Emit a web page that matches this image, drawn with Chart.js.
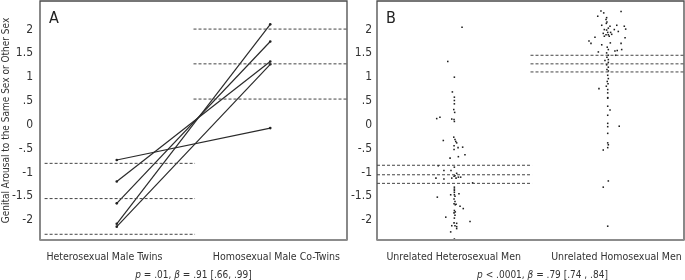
<!DOCTYPE html>
<html>
<head>
<meta charset="utf-8">
<script src="https://cdn.jsdelivr.net/npm/chart.js@4.4.1/dist/chart.umd.min.js"></script>
<style>
  body { margin: 0; background: #fff; }
  #wrap { position: relative; width: 685px; height: 280px; }
  #panelA { position: absolute; left: 0; top: 0; }
  #panelB { position: absolute; left: 350px; top: 0; }
</style>
</head>
<body>
<div id="wrap">
  <canvas id="panelA" width="350" height="280"></canvas>
  <canvas id="panelB" width="335" height="280"></canvas>
</div>
<script>
// y axis ticks (shared by both panels)
const yTicks = [-2, -1.5, -1, -0.5, 0, 0.5, 1, 1.5, 2];
const yTickLabels = ['-2', '-1.5', '-1', '-.5', '0', '.5', '1', '1.5', '2'];

// panel A: twin pairs
const twinLabels = ['Heterosexual Male Twins', 'Homosexual Male Co-Twins'];
const twinHet = [-0.74, -1.19, -1.65, -2.08, -2.14];
const twinHomo = [-0.07, 1.33, 1.75, 2.11, 1.27];
const twinHetBand = [-0.81, -1.55, -2.30];
const twinHomoBand = [2.01, 1.28, 0.54];

// panel B: unrelated men (y value + horizontal jitter)
const unrelLabels = ['Unrelated Heterosexual Men', 'Unrelated Homosexual Men'];
const unrelHetY = [2.05, 1.33, 1.00, 0.69, 0.58, 0.51, 0.44, 0.32, 0.26, 0.16,
  0.13, 0.12, 0.11, 0.07, -0.26, -0.33, -0.31, -0.35, -0.38, -0.44,
  -0.47, -0.48, -0.52, -0.63, -0.67, -0.70, -0.86, -0.89, -0.96, -0.96,
  -1.02, -1.07, -1.08, -1.10, -1.10, -1.12, -1.14, -1.12, -1.12, -1.22,
  -1.31, -1.35, -1.38, -1.42, -1.45, -1.47, -1.47, -1.50, -1.52, -1.56,
  -1.61, -1.66, -1.68, -1.67, -1.71, -1.76, -1.80, -1.83, -1.85, -1.94,
  -1.90, -1.96, -2.03, -2.06, -2.07, -2.12, -2.12, -2.14, -2.25, -2.18, -2.40];
const unrelHetJitter = [0.054, -0.039, 0.004, -0.009, 0.004, 0.004, 0.004, 0, 0.006, -0.09,
  -0.111, -0.013, 0.002, 0.004, 0.0, -0.068, 0.008, 0.013, 0.019, 0.002,
  0.058, 0.028, 0.002, 0.073, 0.030, -0.024, -0.101, 0.004, -0.064, -0.018,
  0.019, 0.008, 0.002, 0.030, 0.045, -0.116, -0.064, -0.013, 0.015, 0.123,
  0.004, 0.004, 0.004, 0.004, 0.034, -0.020, 0.004, 0.008, -0.107, 0.002,
  0.008, 0.002, 0.010, 0.015, 0.041, 0.062, 0.004, 0.010, 0.002, -0.052,
  0.008, 0.004, 0.106, 0.002, 0.019, -0.013, 0.008, 0.019, -0.020, 0.019, 0.004];
const unrelHomoY = [2.39, 2.35, 2.38, 2.28, 2.25, 2.21, 2.16, 2.13, 2.09, 2.07,
  2.03, 2.09, 2.07, 2.00, 1.99, 2.00, 2.01, 1.96, 1.94, 1.94,
  1.89, 1.89, 1.92, 1.90, 1.86, 1.86, 1.84, 1.83, 1.76, 1.71,
  1.68, 1.72, 1.71, 1.63, 1.58, 1.55, 1.56, 1.58, 1.53, 1.51,
  1.46, 1.42, 1.46, 1.35, 1.37, 1.31, 1.26, 1.21, 1.16, 1.13,
  1.04, 0.97, 0.91, 0.86, 0.76, 0.81, 0.74, 0.67, 0.57, 0.56,
  0.39, 0.31, 0.20, 0.03, -0.04, -0.03, -0.18, -0.38, -0.42, -0.48,
  -0.53, -1.18, -1.31, -2.13];
const unrelHomoJitter = [-0.041, -0.023, 0.090, -0.062, -0.004, -0.008, -0.002, -0.006, -0.036, 0.018,
  0.007, 0.062, 0.111, -0.019, -0.004, 0.046, 0.120, 0.072, 0.003, 0.022,
  0.007, -0.008, -0.026, 0.029, 0.013, -0.019, -0.080, 0.116, -0.119, -0.106,
  -0.036, 0.020, 0.090, 0.0, 0.007, 0.050, 0.065, 0.094, -0.058, -0.004,
  0.007, -0.002, 0.055, -0.015, 0.007, 0.007, -0.004, 0.007, -0.002, 0.007,
  0.003, 0.007, 0.0, 0.005, -0.054, -0.006, 0.003, 0.003, 0.003, 0.003,
  0.003, 0.018, 0.003, 0.003, 0.003, 0.078, 0.003, 0.003, 0.007, 0.003,
  -0.026, 0.007, -0.026, 0.003];
const unrelHetBand = [-0.85, -1.05, -1.23];
const unrelHomoBand = [1.46, 1.28, 1.11];

const FONT = "'Liberation Sans Narrow', 'DejaVu Sans Condensed', 'Arial Narrow', sans-serif";
const INK = '#333';

// box round the plot area: dark sides and top, grey bottom
const framePlugin = {
  id: 'frame',
  afterDatasetsDraw(chart) {
    const {ctx, chartArea: a} = chart;
    ctx.save();
    ctx.strokeStyle = '#4a4a4a';
    ctx.lineWidth = 1.3;
    ctx.beginPath();
    ctx.moveTo(a.left, a.bottom);
    ctx.lineTo(a.left, a.top);
    ctx.lineTo(a.right, a.top);
    ctx.lineTo(a.right, a.bottom);
    ctx.stroke();
    ctx.strokeStyle = '#8c8c8c';
    ctx.lineWidth = 2;
    ctx.beginPath();
    ctx.moveTo(a.left - 0.6, a.bottom);
    ctx.lineTo(a.right + 0.6, a.bottom);
    ctx.stroke();
    ctx.restore();
  }
};

// panel letter + stats line with italic p and beta
const notesPlugin = {
  id: 'notes',
  afterDraw(chart, args, opts) {
    const {ctx, chartArea: a} = chart;
    ctx.save();
    ctx.fillStyle = '#222';
    ctx.textBaseline = 'alphabetic';
    ctx.font = '16px ' + FONT;
    ctx.fillText(opts.letter, a.left + 9, a.top + 22);

    const segs = opts.stats;
    const size = '10px ';
    let total = 0;
    segs.forEach(s => {
      ctx.font = (s[1] ? 'italic ' : '') + size + FONT;
      total += ctx.measureText(s[0]).width;
    });
    let x = (a.left + a.right) / 2 + opts.shift - total / 2;
    segs.forEach(s => {
      ctx.font = (s[1] ? 'italic ' : '') + size + FONT;
      ctx.fillStyle = INK;
      ctx.fillText(s[0], x, 278);
      x += ctx.measureText(s[0]).width;
    });
    ctx.restore();
  }
};

function band(values, x0, x1) {
  return values.map(v => ({
    data: [{x: x0, y: v}, {x: x1, y: v}],
    borderColor: '#444',
    borderWidth: 1,
    borderDash: [3, 2],
    pointRadius: 0
  }));
}

// labelAt: where each group label is centred along the x axis
function scales(labels, labelAt, yWidth, yPad, showTitle) {
  return {
    x: {
      type: 'linear', min: -0.5, max: 1.5,
      afterBuildTicks: s => { s.ticks = labelAt.map(v => ({value: v})); },
      afterFit: s => { s.height = 40; s.paddingLeft = 0; s.paddingRight = 0; },
      ticks: {callback: (v, i) => labels[i], color: INK, padding: 11, maxRotation: 0,
              font: {family: FONT, size: 10.5}},
      grid: {display: false, drawTicks: false},
      border: {display: false}
    },
    y: {
      type: 'linear', min: -2.42, max: 2.6,
      afterBuildTicks: s => { s.ticks = yTicks.map(v => ({value: v})); },
      afterFit: s => { s.width = yWidth; s.paddingTop = 0; s.paddingBottom = 0; },
      ticks: {callback: v => yTickLabels[yTicks.indexOf(v)], color: INK, padding: yPad,
              font: {family: FONT, size: 12}},
      grid: {display: false, drawTicks: false},
      border: {display: false},
      title: {display: showTitle, text: 'Genital Arousal to the Same Sex or Other Sex',
              color: INK, padding: 0, font: {family: FONT, size: 10}}
    }
  };
}

const common = {
  responsive: false,
  animation: false,
  events: [],
  plugins: {legend: {display: false}, tooltip: {enabled: false}}
};

// panel A
const pairSets = twinHet.map((h, i) => ({
  data: [{x: 0, y: h}, {x: 1, y: twinHomo[i]}],
  borderColor: '#2a2a2a',
  borderWidth: 1.2,
  pointRadius: 1.3,
  pointBackgroundColor: '#222',
  pointBorderWidth: 0
}));

new Chart(document.getElementById('panelA'), {
  type: 'line',
  data: {datasets: [...band(twinHetBand, -0.47, 0.51), ...band(twinHomoBand, 0.5, 1.5), ...pairSets]},
  options: {
    ...common,
    layout: {autoPadding: false, padding: {top: 1, right: 3, left: 0, bottom: 0}},
    scales: scales(twinLabels, [-0.08, 1.04], 40, 7, true),
    plugins: {
      ...common.plugins,
      notes: {letter: 'A', shift: 0,
              stats: [['p', true], [' = .01, ', false], ['β', true], [' = .91 [.66, .99]', false]]}
    }
  },
  plugins: [framePlugin, notesPlugin]
});

// panel B
const dots = (ys, js, base) => ys.map((v, i) => ({x: base + js[i], y: v}));
const dotStyle = {
  type: 'scatter',
  pointStyle: 'rect',
  pointRadius: 1.1,
  pointBackgroundColor: '#1e1e1e',
  pointBorderWidth: 0,
  showLine: false
};

new Chart(document.getElementById('panelB'), {
  type: 'line',
  data: {datasets: [
    ...band(unrelHetBand, -0.5, 0.51), ...band(unrelHomoBand, 0.5, 1.5),
    {...dotStyle, data: dots(unrelHetY, unrelHetJitter, 0)},
    {...dotStyle, data: dots(unrelHomoY, unrelHomoJitter, 1)}
  ]},
  options: {
    ...common,
    layout: {autoPadding: false, padding: {top: 1, right: 1, left: 0, bottom: 0}},
    scales: scales(unrelLabels, [0, 1.06], 27, 5, false),
    plugins: {
      ...common.plugins,
      notes: {letter: 'B', shift: 12,
              stats: [['p', true], [' < .0001, ', false], ['β', true], [' = .79 [.74 , .84]', false]]}
    }
  },
  plugins: [framePlugin, notesPlugin]
});
</script>
</body>
</html>
